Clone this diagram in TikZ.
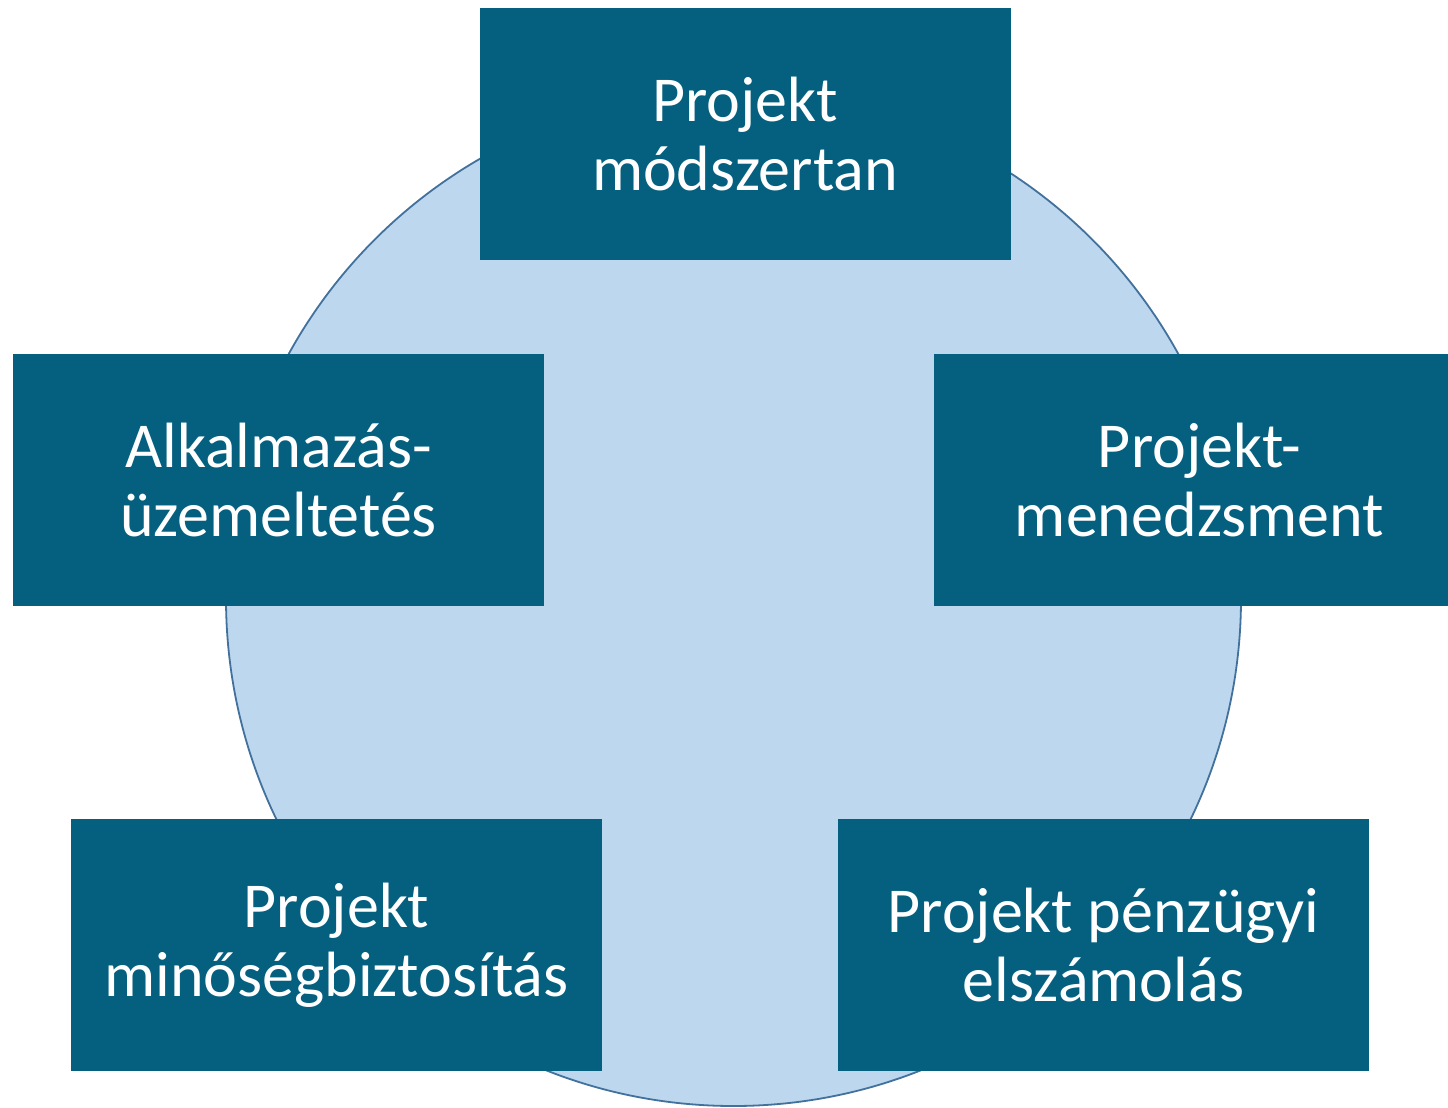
\documentclass[tikz,border=0pt]{standalone}
\usepackage{fontspec}
\setmainfont{Carlito}
\definecolor{boxc}{HTML}{05607F}
\definecolor{circfill}{HTML}{BDD7EE}
\definecolor{circline}{HTML}{41719C}
\begin{document}
\begin{tikzpicture}[x=1pt,y=-1pt,
  topic/.style={fill=boxc, draw=none, minimum width=531pt, minimum height=252pt,
    text=white, align=center, inner sep=0pt,
    font=\fontsize{64}{69}\selectfont}]
\useasboundingbox (0,0) rectangle (1448,1108);
\clip (0,0) rectangle (1448,1108);
\node[circle, fill=circfill, draw=circline, line width=1.8pt, minimum size=1015pt, inner sep=0pt] (hub) at (733.5,598.5) {};
\node[topic] (top) at (745,134) {Projekt\\módszertan};
\node[topic] (left) at (278.5,480) {Alkalmazás-\\üzemeltetés};
\node[topic] (right) at (1199.5,480) {Projekt-\\menedzsment};
\node[topic] (bl) at (336.5,945) {Projekt\\minőségbiztosítás};
\node[topic] (br) at (1103.5,945) {Projekt pénzügyi\\elszámolás};
\end{tikzpicture}
\end{document}
